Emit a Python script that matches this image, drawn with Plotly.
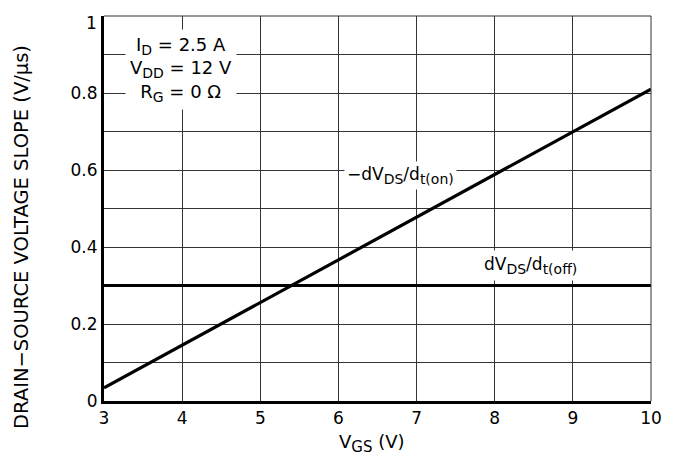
import plotly.graph_objects as go

vgs = [3, 10]
slope_on = [0.034, 0.81]
slope_off = [0.30, 0.30]
x_ticks = [3, 4, 5, 6, 7, 8, 9, 10]
y_ticks = [0, 0.2, 0.4, 0.6, 0.8]
y_tick_text = ["0", "0.2", "0.4", "0.6", "0.8"]
y_top_label = "1"

FONT = "DejaVu Sans, Liberation Sans, Arial, sans-serif"
SUB = "<sub><span style='font-size:14px'>{}</span></sub>"

fig = go.Figure()
fig.add_trace(go.Scatter(x=vgs, y=slope_on, mode="lines",
                         line=dict(color="black", width=3.2), showlegend=False))
fig.add_trace(go.Scatter(x=vgs, y=slope_off, mode="lines",
                         line=dict(color="black", width=3.2), showlegend=False))

fig.update_layout(
    width=666, height=453,
    margin=dict(l=96, r=23, t=8, b=60),
    paper_bgcolor="white", plot_bgcolor="white",
    font=dict(family=FONT, size=17, color="black"),
    xaxis=dict(range=[3, 10], tickvals=x_ticks, ticktext=[str(v) for v in x_ticks],
               showgrid=True, gridcolor="#333", gridwidth=1,
               showline=True, linecolor="black", linewidth=3, ticks="",
               zeroline=False, automargin=False, ticklabeloverflow="allow"),
    yaxis=dict(range=[0, 1], tickvals=y_ticks, ticktext=y_tick_text,
               showgrid=True, gridcolor="#333", gridwidth=1,
               minor=dict(dtick=0.1, tick0=0, showgrid=True, gridcolor="#333", gridwidth=1),
               showline=True, linecolor="black", linewidth=3, ticks="",
               zeroline=False, automargin=False, ticklabeloverflow="allow"),
)

# thin top and right frame
fig.add_shape(type="line", xref="paper", yref="paper", x0=0, x1=1, y0=1, y1=1,
              line=dict(color="#333", width=1))
fig.add_shape(type="line", xref="paper", yref="paper", x0=1, x1=1, y0=0, y1=1,
              line=dict(color="#333", width=1))

# top y tick label, nudged down like the reference
fig.add_annotation(x=0, y=1, xref="paper", yref="y", text=y_top_label,
                   showarrow=False, xanchor="right", yanchor="top", xshift=-5, yshift=5,
                   font=dict(size=17))

# axis titles
fig.add_annotation(x=0.49, y=-0.11, xref="paper", yref="paper",
                   text="V<sub><span style='font-size:15px'>GS</span></sub> (V)", showarrow=False,
                   font=dict(size=18), xanchor="center", yanchor="middle")
fig.add_annotation(x=-0.150, y=0.426, xref="paper", yref="paper",
                   text="DRAIN\u2212SOURCE VOLTAGE SLOPE (V/\u03bcs)", showarrow=False,
                   textangle=-90, font=dict(size=19.5), xanchor="center", yanchor="middle")

fig.add_annotation(x=3.985, y=0.86, xref="x", yref="y",
                   text="I" + SUB.format("D") + " = 2.5 A<br>V" + SUB.format("DD")
                        + " = 12 V<br>R" + SUB.format("G") + " = 0 \u03a9",
                   showarrow=False, bgcolor="white", font=dict(size=18), align="center",
                   borderpad=4)
fig.add_annotation(x=6.79, y=0.585, xref="x", yref="y",
                   text="\u2212dV" + SUB.format("DS") + "/d" + SUB.format("t(on)"),
                   showarrow=False, bgcolor="white", font=dict(size=17), borderpad=2)
fig.add_annotation(x=8.46, y=0.353, xref="x", yref="y",
                   text="dV" + SUB.format("DS") + "/d" + SUB.format("t(off)"),
                   showarrow=False, bgcolor="white", font=dict(size=17), borderpad=3)

fig.write_html("out.html")
